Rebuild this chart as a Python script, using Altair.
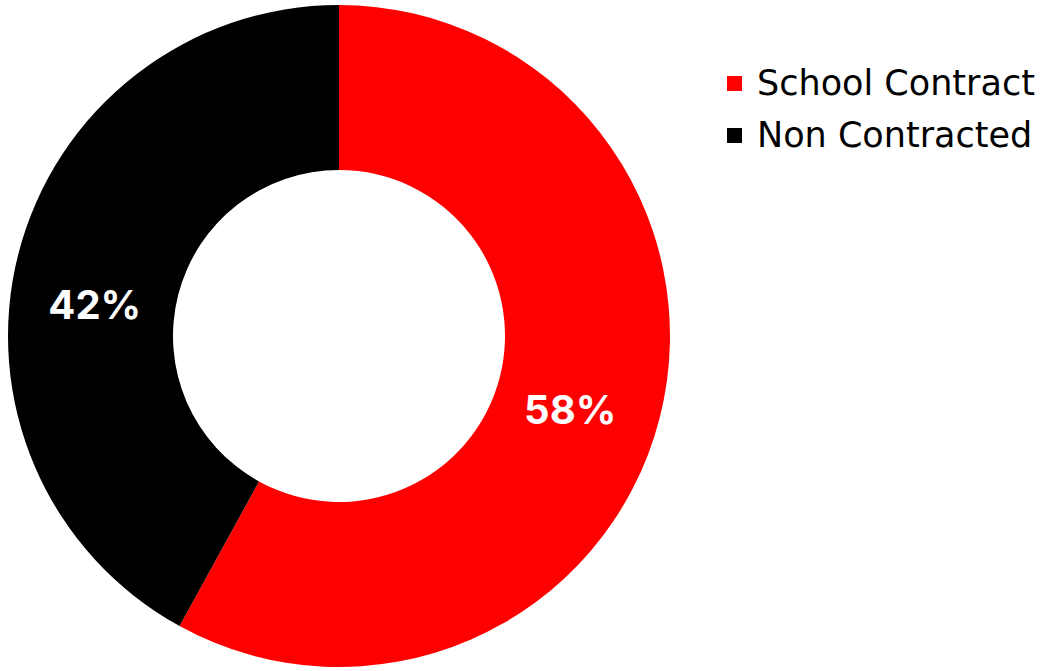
import altair as alt
import pandas as pd

categories = ["School Contract", "Non Contracted"]
values = [58, 42]
labels = ["58%", "42%"]
colors = ["#ff0000", "#000000"]

df = pd.DataFrame({"category": categories, "value": values, "label": labels, "order": [0, 1]})

theta_scale = alt.Scale(domain=[0, 100], range=[0, 6.283185307179586])

base = alt.Chart(df).transform_stack(
    stack="value", groupby=[], as_=["start", "end"], sort=[alt.SortField("order")]
).transform_calculate(mid="(datum.start + datum.end) / 2").encode(
    x=alt.value(339),
    y=alt.value(336),
)

arc = base.mark_arc(outerRadius=331, innerRadius=166, stroke=None).encode(
    theta=alt.Theta("start:Q", scale=theta_scale),
    theta2="end:Q",
    color=alt.Color(
        "category:N",
        scale=alt.Scale(domain=categories, range=colors),
        sort=categories,
        legend=alt.Legend(
            title=None,
            orient="none",
            legendX=717,
            legendY=66,
            symbolType="square",
            symbolSize=225,
            symbolStrokeWidth=0,
            labelFontSize=35,
            labelFont="DejaVu Sans",
            labelColor="#000000",
            labelOffset=5,
            labelLimit=0,
            rowPadding=16,
            padding=0,
        ),
    ),
)

text_style = dict(radius=248, fontSize=40, fontWeight="bold", font="Inter", color="white")
text_red = base.mark_text(dx=-9, dy=14, **text_style).encode(
    theta=alt.Theta("mid:Q", scale=theta_scale), text="label:N"
).transform_filter(alt.datum.category == categories[0])
text_black = base.mark_text(dx=-4, dy=33, **text_style).encode(
    theta=alt.Theta("mid:Q", scale=theta_scale), text="label:N"
).transform_filter(alt.datum.category == categories[1])

chart = (arc + text_red + text_black).properties(
    width=1060, height=671, autosize=alt.AutoSizeParams(type="none"), padding=0
).configure_view(stroke=None)

chart.save("out.html", embed_options={"renderer": "svg", "actions": False})
